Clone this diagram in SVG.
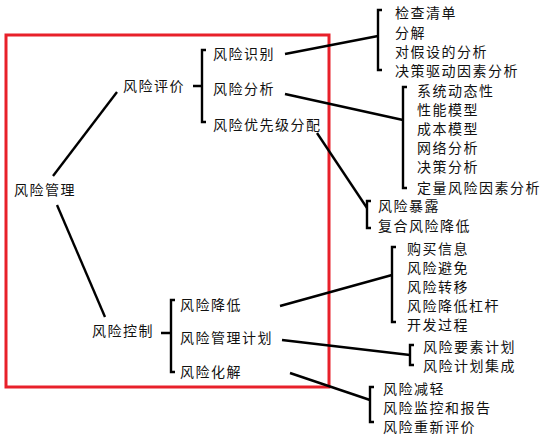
<svg xmlns="http://www.w3.org/2000/svg" width="548" height="442" viewBox="0 0 548 442">
<style>
text{font-family:"Noto Sans CJK SC","Noto Sans",sans-serif;font-size:14px;fill:#111;letter-spacing:1.5px}
.ln{stroke:#000;stroke-width:2.4;fill:none;stroke-linecap:butt}
.br{stroke:#000;stroke-width:2.4;fill:none}
</style>
<rect width="548" height="442" fill="#fff"/>
<rect x="6" y="35" width="323" height="352" fill="none" stroke="#e8202a" stroke-width="3"/>
<g id="connectors">
<path class="ln" d="M53,176 L117,92"/>
<path class="ln" d="M57,205 L105,317"/>
<path class="br" d="M193,86 H202 M206,50 H202 V122 H206"/>
<path class="br" d="M161,333 H171 M175,300 H171 V372 H175"/>
<path class="ln" d="M285,54 L378,36"/>
<path class="br" d="M382,10 H378 V70 H382"/>
<path class="ln" d="M285,94 L403,120"/>
<path class="br" d="M407,87 H403 V188 H407"/>
<path class="ln" d="M317,133 L367,208"/>
<path class="br" d="M371,201 H367 V228 H371"/>
<path class="ln" d="M280,306 L392,275"/>
<path class="br" d="M396,247 H392 V322 H396"/>
<path class="ln" d="M282,340 L410,355"/>
<path class="br" d="M414,345 H410 V365 H414"/>
<path class="ln" d="M290,373 L370,400"/>
<path class="br" d="M374,387 H370 V422 H374"/>
</g>
<g id="root"><text x="14" y="195">风险管理</text></g>
<g id="eval"><text x="123" y="91">风险评价</text></g>
<g id="ctrl"><text x="92" y="336">风险控制</text></g>
<g id="ident"><text x="213" y="59">风险识别</text></g>
<g id="analysis"><text x="213" y="94">风险分析</text></g>
<g id="priority"><text x="213" y="130">风险优先级分配</text></g>
<g id="reduce"><text x="180" y="310">风险降低</text></g>
<g id="plan"><text x="180" y="343">风险管理计划</text></g>
<g id="resolve"><text x="180" y="377">风险化解</text></g>
<g id="ident-items">
<text x="395" y="18">检查清单</text>
<text x="395" y="38">分解</text>
<text x="395" y="57">对假设的分析</text>
<text x="395" y="76">决策驱动因素分析</text>
</g>
<g id="analysis-items">
<text x="417" y="96">系统动态性</text>
<text x="417" y="115">性能模型</text>
<text x="417" y="134">成本模型</text>
<text x="417" y="153">网络分析</text>
<text x="417" y="172">决策分析</text>
<text x="417" y="193">定量风险因素分析</text>
</g>
<g id="priority-items">
<text x="378" y="211">风险暴露</text>
<text x="378" y="231">复合风险降低</text>
</g>
<g id="reduce-items">
<text x="407" y="254">购买信息</text>
<text x="407" y="273">风险避免</text>
<text x="407" y="292">风险转移</text>
<text x="407" y="311">风险降低杠杆</text>
<text x="407" y="330">开发过程</text>
</g>
<g id="plan-items">
<text x="423" y="352">风险要素计划</text>
<text x="423" y="371">风险计划集成</text>
</g>
<g id="resolve-items">
<text x="383" y="394">风险减轻</text>
<text x="383" y="413">风险监控和报告</text>
<text x="383" y="432">风险重新评价</text>
</g>
</svg>
